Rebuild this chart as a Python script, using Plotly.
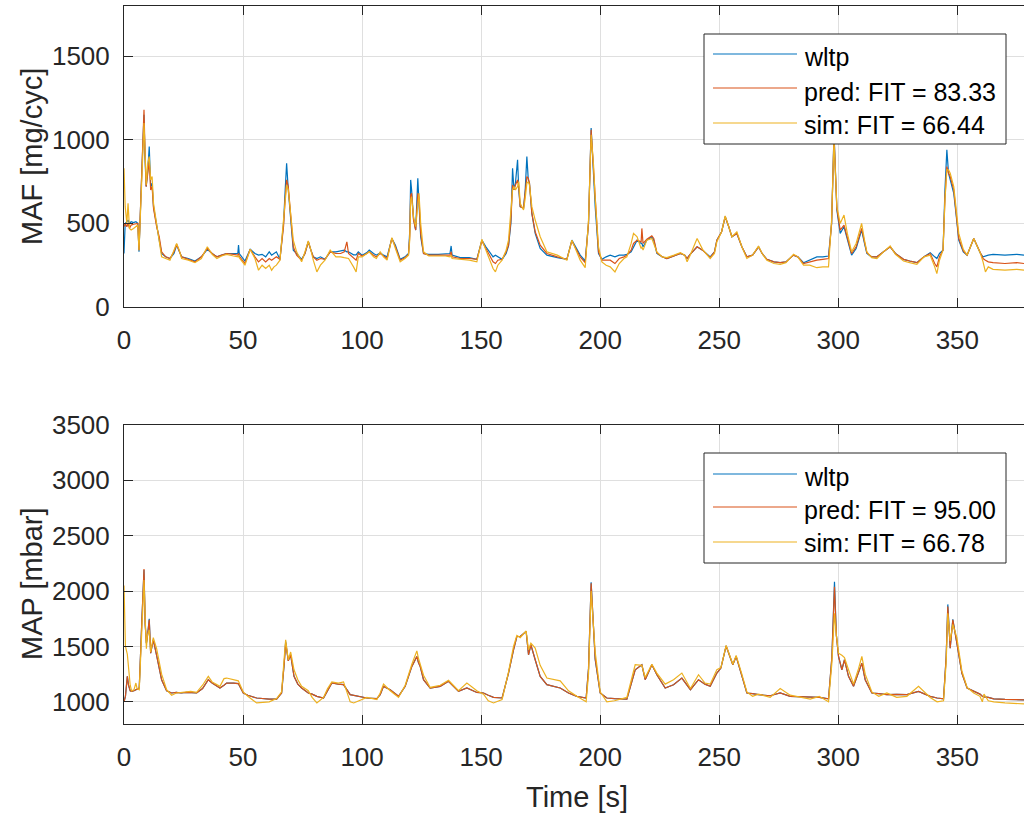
import plotly.graph_objects as go

# ---------------- data: MAF (top) ----------------
maf_t = [0, 0.5, 1.2, 1.7, 2.3, 3, 4, 5, 5.8, 6.3, 7.2, 8.0, 8.4, 8.8, 9.3, 10.0, 10.6, 11.2, 11.8, 12.4,
         13.7, 14.8, 15.8, 17.5, 19.3, 21.0, 22.1, 23.2, 24.2, 27, 29.8, 32.5, 35, 37, 39, 41, 43.1, 46, 47.8, 48.1,
         48.4, 50.8, 53, 55, 56.5, 58, 59.5, 61, 62, 63, 64, 65.5, 67, 67.7, 68.3, 69, 69.7, 70.5, 71.1, 72.5,
         74.6, 76, 77.4, 78.5, 79.5, 81, 82.5, 84.4, 86.6, 89, 91, 92.5, 93.6, 94.3, 96.4, 97.5, 98.4, 100, 102, 103,
         104.8, 106, 107.6, 109, 110.5, 112.5, 114, 116, 118, 119.5, 120, 120.4, 120.8, 121.6, 122.5, 123.4, 123.9, 124.6, 125.8, 128,
         132, 135, 136.9, 137.4, 137.8, 141.2, 145, 148.2, 150.3, 152, 153.8, 155, 156, 157, 158.8, 160.5, 161.5, 162.5, 163.2, 163.8,
         164.4, 165.3, 165.8, 166.4, 167.8, 168.5, 169.2, 169.8, 170.3, 171.3, 172.7, 174.8, 177.6, 182, 186, 188.1, 190, 191.6, 193.7, 195.1,
         196.2, 197.2, 197.9, 199.3, 200.7, 202.5, 204.2, 206.2, 208, 210, 211.2, 213, 214, 215.5, 217.2, 217.5, 218, 219.6, 221.7, 222.5,
         223.8, 226, 228, 231, 233.7, 235.5, 236.5, 237.5, 240.7, 243, 246.2, 248, 249, 251, 252.5, 254, 255.3, 257.4, 259.5, 261.6,
         264, 266.5, 268, 270, 273, 275.6, 278, 281.2, 283, 285.4, 288, 291, 293.5, 295.9, 297.2, 298.2, 299.4, 300.8, 302.4, 303.8,
         305.6, 307.5, 309.8, 311, 312, 314, 316.2, 319, 321.8, 324, 327.4, 330, 333, 336, 338.6, 340.5, 341.4, 342.5, 344, 344.8,
         345.6, 346.3, 347, 348.5, 349.5, 350.6, 352.5, 354.1, 356.9, 358.5, 359.7, 360.8, 361.8, 363, 365, 370, 375, 378]
maf_wltp = [320, 500, 510, 520, 500, 510, 505, 510, 500, 330, 700, 1000, 1150, 900, 720, 820, 960, 720, 740, 600,
            480, 400, 320, 300, 290, 320, 370, 330, 300, 290, 275, 300, 345, 320, 300, 310, 320, 320, 320, 370,
            320, 275, 345, 320, 310, 315, 300, 330, 310, 320, 330, 285, 500, 700, 860, 700, 560, 440, 340, 320,
            285, 320, 390, 340, 300, 290, 300, 285, 330, 330, 335, 340, 330, 330, 312, 312, 330, 310, 325, 340,
            320, 310, 325, 310, 300, 410, 370, 285, 300, 320, 450, 760, 700, 530, 460, 770, 620, 420, 320, 315,
            315, 320, 320, 365, 310, 295, 295, 285, 400, 360, 320, 300, 310, 300, 285, 320, 365, 500, 830, 700,
            740, 880, 700, 600, 590, 700, 900, 760, 740, 560, 440, 350, 310, 295, 285, 400, 350, 310, 275, 500,
            1070, 800, 600, 320, 285, 300, 310, 300, 310, 310, 315, 330, 360, 400, 380, 380, 360, 400, 420, 400,
            320, 300, 290, 305, 320, 310, 290, 310, 360, 340, 300, 330, 400, 450, 540, 480, 420, 440, 360, 300,
            310, 360, 320, 285, 270, 265, 270, 310, 300, 265, 280, 300, 300, 305, 500, 1040, 580, 440, 480, 400,
            310, 350, 460, 380, 320, 300, 300, 330, 360, 320, 285, 275, 265, 300, 325, 300, 290, 320, 340, 700,
            940, 800, 760, 680, 550, 400, 330, 310, 410, 360, 320, 300, 305, 310, 315, 310, 315, 310]
maf_pred = [480, 500, 480, 500, 470, 490, 495, 500, 500, 340, 720, 1050, 1180, 950, 720, 800, 870, 700, 720, 590,
            480, 420, 330, 300, 290, 330, 375, 335, 300, 285, 270, 300, 350, 320, 300, 310, 320, 315, 310, 320,
            305, 260, 345, 300, 270, 290, 270, 290, 280, 290, 300, 285, 480, 650, 760, 720, 580, 450, 360, 310,
            280, 320, 390, 340, 300, 280, 290, 285, 330, 320, 320, 330, 390, 320, 290, 280, 320, 305, 320, 330,
            310, 300, 320, 305, 290, 410, 360, 280, 295, 315, 420, 670, 680, 520, 460, 680, 650, 440, 320, 310,
            310, 310, 310, 330, 300, 290, 290, 285, 395, 350, 300, 270, 260, 280, 285, 330, 370, 520, 730, 700,
            730, 760, 720, 600, 590, 680, 780, 770, 740, 560, 450, 370, 320, 300, 285, 395, 340, 300, 265, 500,
            1060, 820, 620, 330, 280, 280, 280, 260, 290, 300, 310, 340, 380, 400, 390, 470, 380, 405, 425, 410,
            325, 300, 290, 305, 320, 310, 290, 310, 360, 340, 295, 330, 400, 450, 540, 480, 420, 440, 360, 300,
            310, 360, 320, 285, 270, 265, 270, 310, 300, 260, 270, 280, 285, 290, 500, 1030, 590, 460, 490, 420,
            320, 360, 470, 390, 325, 300, 300, 330, 360, 320, 285, 275, 265, 300, 320, 260, 240, 300, 340, 650,
            840, 800, 780, 700, 560, 410, 335, 310, 410, 360, 320, 290, 280, 270, 265, 260, 265, 260]
maf_sim = [830, 600, 500, 620, 470, 460, 470, 480, 490, 340, 700, 980, 1100, 950, 730, 860, 900, 760, 780, 620,
           500, 390, 300, 290, 280, 340, 380, 340, 290, 280, 265, 290, 360, 315, 290, 305, 315, 305, 300, 310,
           295, 250, 345, 290, 220, 250, 230, 250, 220, 240, 250, 280, 500, 600, 730, 700, 600, 480, 400, 330,
           270, 330, 395, 340, 280, 210, 250, 280, 340, 300, 300, 295, 290, 290, 240, 210, 300, 300, 320, 330,
           300, 290, 330, 300, 280, 415, 350, 270, 290, 310, 400, 640, 660, 540, 480, 640, 680, 500, 330, 305,
           305, 305, 300, 310, 290, 285, 280, 270, 405, 340, 280, 230, 210, 250, 280, 340, 400, 560, 700, 720,
           700, 720, 750, 620, 580, 650, 740, 750, 730, 600, 520, 420, 330, 310, 280, 400, 330, 280, 235, 520,
           1030, 850, 650, 360, 270, 250, 240, 210, 260, 290, 300, 380, 440, 420, 350, 360, 340, 400, 410, 380,
           330, 300, 295, 310, 325, 310, 270, 300, 410, 345, 290, 320, 390, 450, 545, 480, 420, 450, 360, 290,
           310, 365, 320, 280, 260, 255, 265, 315, 300, 250, 250, 235, 240, 240, 520, 1000, 600, 500, 550, 440,
           330, 380, 500, 400, 330, 295, 290, 330, 365, 315, 275, 265, 255, 300, 310, 240, 200, 280, 340, 640,
           820, 820, 800, 720, 590, 440, 345, 310, 410, 360, 320, 270, 210, 240, 225, 220, 225, 220]

# ---------------- data: MAP (bottom) ----------------
map_t = [0, 0.6, 1.4, 1.9, 2.6, 3.2, 4.2, 5.0, 5.5, 6.4, 7.4, 8.0, 8.4, 8.9, 9.4, 9.8, 10.6, 11.2, 11.8, 12.3,
         13.7, 15.8, 17.9, 20, 22, 24, 26.3, 28, 30.5, 33, 35.4, 37, 40.3, 42, 43.1, 46, 48, 50.1, 52, 55.7,
         58, 61, 64.1, 66.2, 67.3, 67.9, 69, 70, 71.4, 73, 74.6, 77.4, 79, 81, 83.8, 85.5, 87.3, 90, 92.2, 95,
         96.5, 98.5, 102, 106.2, 107.6, 109, 111.8, 115.3, 118.1, 120.9, 123, 123.6, 124.4, 125.8, 128.6, 132.8, 136.3, 140.5, 144, 148.2,
         151, 153, 155.2, 158.8, 161.5, 163.6, 165, 166.4, 168.9, 169.9, 170.9, 172.7, 174.8, 177.6, 183.2, 186.7, 190.2, 194.1, 195.1, 196.2,
         197.9, 200, 202.8, 206, 211.2, 214.7, 217.5, 218.9, 221.7, 223.8, 227.3, 230.8, 234.3, 237.9, 241.3, 244, 246.2, 249, 250.7, 252.9,
         255.7, 257.1, 259.5, 261.6, 264, 266.5, 271.4, 275.6, 279.8, 284, 288.2, 292, 295.9, 297.3, 298.4, 299.2, 300.1, 301.5, 302.6, 304.3,
         306.4, 308.5, 309.9, 311.3, 314.1, 317, 320.4, 324.5, 328.8, 333.7, 338.6, 341.5, 344.2, 345.3, 346, 347, 348.1, 349.8, 351.9, 354.1,
         356.9, 359.5, 360.5, 361.2, 363, 365.3, 370, 378]
map_wltp = [1000, 1050, 1230, 1150, 1100, 1095, 1100, 1110, 1110, 1125, 1680, 1950, 2190, 1700, 1530, 1580, 1750, 1440, 1500, 1560,
            1420, 1200, 1100, 1080, 1085, 1080, 1085, 1085, 1080, 1120, 1200, 1170, 1125, 1150, 1170, 1170, 1165, 1080, 1060, 1035,
            1030, 1025, 1025, 1080, 1350, 1545, 1370, 1425, 1230, 1160, 1125, 1080, 1070, 1050, 1035, 1100, 1170, 1160, 1155, 1065,
            1060, 1050, 1035, 1030, 1065, 1140, 1110, 1050, 1140, 1320, 1410, 1360, 1320, 1200, 1125, 1140, 1185, 1095, 1125, 1085,
            1080, 1060, 1040, 1035, 1260, 1470, 1590, 1590, 1635, 1425, 1515, 1380, 1230, 1155, 1125, 1080, 1050, 1035, 1300, 2080,
            1380, 1080, 1035, 1030, 1025, 1290, 1335, 1200, 1335, 1245, 1125, 1155, 1215, 1110, 1200, 1160, 1140, 1260, 1305, 1505,
            1335, 1410, 1230, 1080, 1075, 1065, 1055, 1080, 1050, 1048, 1045, 1040, 1027, 1400, 2085, 1600, 1410, 1290, 1380, 1230,
            1140, 1260, 1350, 1200, 1080, 1075, 1065, 1068, 1065, 1095, 1050, 1035, 1027, 1400, 1880, 1485, 1745, 1530, 1260, 1125,
            1095, 1070, 1051, 1045, 1040, 1027, 1022, 1018]
map_pred = [1000, 1050, 1230, 1150, 1100, 1095, 1100, 1110, 1110, 1125, 1680, 1980, 2200, 1700, 1530, 1580, 1740, 1440, 1500, 1560,
            1420, 1200, 1100, 1080, 1085, 1080, 1085, 1085, 1080, 1120, 1200, 1170, 1125, 1150, 1170, 1170, 1165, 1080, 1060, 1035,
            1030, 1025, 1025, 1080, 1350, 1530, 1370, 1425, 1230, 1160, 1125, 1080, 1070, 1050, 1035, 1100, 1170, 1160, 1155, 1065,
            1060, 1050, 1035, 1030, 1065, 1140, 1110, 1050, 1140, 1320, 1410, 1360, 1320, 1200, 1125, 1140, 1185, 1095, 1125, 1085,
            1080, 1060, 1040, 1035, 1260, 1470, 1590, 1590, 1635, 1425, 1515, 1380, 1230, 1155, 1125, 1080, 1050, 1035, 1300, 2070,
            1390, 1080, 1035, 1030, 1025, 1290, 1335, 1200, 1335, 1245, 1125, 1155, 1215, 1110, 1200, 1160, 1140, 1260, 1305, 1505,
            1335, 1410, 1230, 1080, 1075, 1065, 1055, 1080, 1050, 1048, 1045, 1040, 1027, 1400, 2040, 1600, 1410, 1290, 1380, 1230,
            1140, 1260, 1350, 1200, 1080, 1075, 1065, 1068, 1065, 1095, 1050, 1035, 1027, 1400, 1860, 1485, 1740, 1530, 1260, 1125,
            1095, 1070, 1051, 1045, 1040, 1027, 1022, 1018]
map_sim = [2050, 1500, 1430, 1330, 1150, 1100, 1110, 1170, 1120, 1110, 1650, 1850, 2100, 1750, 1480, 1600, 1650, 1450, 1520, 1580,
           1480, 1250, 1110, 1060, 1080, 1085, 1090, 1095, 1085, 1150, 1230, 1180, 1140, 1210, 1215, 1200, 1190, 1090, 1050, 990,
           995, 1000, 1030, 1090, 1400, 1560, 1380, 1450, 1290, 1200, 1140, 1100, 1040, 990, 1040, 1120, 1180, 1170, 1180, 1000,
           990, 1010, 1040, 1020, 1080, 1160, 1100, 1040, 1150, 1340, 1460, 1400, 1340, 1240, 1130, 1150, 1195, 1100, 1170, 1100,
           1070, 1010, 990, 1020, 1270, 1500, 1600, 1580, 1640, 1470, 1530, 1485, 1330, 1215, 1190, 1100, 1050, 1000, 1250, 2000,
           1450, 1090, 1000, 1010, 1040, 1335, 1330, 1220, 1340, 1260, 1160, 1200, 1260, 1120, 1245, 1170, 1160, 1290, 1310, 1510,
           1340, 1420, 1250, 1090, 1050, 1070, 1040, 1120, 1060, 1045, 1025, 1050, 1000, 1350, 1800, 1600, 1440, 1420, 1400, 1290,
           1160, 1300, 1410, 1250, 1090, 1050, 1080, 1040, 1050, 1140, 1040, 1000, 1010, 1350, 1800, 1550, 1700, 1580, 1280, 1130,
           1080, 1050, 1000, 1070, 1010, 1000, 990, 982]

series_names_top = ["wltp", "pred: FIT = 83.33", "sim: FIT = 66.44"]
series_names_bot = ["wltp", "pred: FIT = 95.00", "sim: FIT = 66.78"]
colors = ["#0072BD", "#D95319", "#EDB120"]
x_ticks = [0, 50, 100, 150, 200, 250, 300, 350]
maf_ticks = [0, 500, 1000, 1500]
map_ticks = [1000, 1500, 2000, 2500, 3000, 3500]

# ---------------- layout geometry ----------------
W, H = 1024, 819
L, R, T, B = 124, 0, 6, 95
PW, PH = W - L - R, H - T - B


def fx(x):
    return (x - L) / PW


def fy(y):
    return (H - B - y) / PH


FONT = "Liberation Sans, Arial, Helvetica, sans-serif"
AX = "#262626"
GRID = "#dfdfdf"

fig = go.Figure()
for vals, name, col in zip([maf_wltp, maf_pred, maf_sim], series_names_top, colors):
    fig.add_trace(go.Scatter(x=maf_t, y=vals, mode="lines", name=name,
                             line=dict(color=col, width=1.2), xaxis="x", yaxis="y", showlegend=False))
for vals, name, col in zip([map_wltp, map_pred, map_sim], series_names_bot, colors):
    fig.add_trace(go.Scatter(x=map_t, y=vals, mode="lines", name=name,
                             line=dict(color=col, width=1.2), xaxis="x2", yaxis="y2", showlegend=False))

common_x = dict(range=[0, 378], tickvals=x_ticks, showline=True, linecolor=AX, linewidth=1,
                mirror="allticks", ticks="inside", ticklen=9, tickwidth=1, tickcolor=AX,
                showgrid=True, gridcolor=GRID, gridwidth=1, zeroline=False, automargin=False,
                tickfont=dict(family=FONT, size=26, color=AX), ticklabelstandoff=10)
common_y = dict(showline=True, linecolor=AX, linewidth=1, mirror=False, ticks="inside",
                ticklen=9, tickwidth=1, tickcolor=AX, showgrid=True, gridcolor=GRID, gridwidth=1,
                zeroline=False, automargin=False,
                tickfont=dict(family=FONT, size=26, color=AX), ticklabelstandoff=8)

fig.update_layout(
    template="none",
    width=W, height=H, margin=dict(l=L, r=R, t=T, b=B, autoexpand=False),
    paper_bgcolor="white", plot_bgcolor="white", showlegend=False,
    xaxis=dict(domain=[0, 1], anchor="y", **common_x),
    yaxis=dict(domain=[fy(307), fy(6)], anchor="x", range=[0, 1800], tickvals=maf_ticks, **common_y),
    xaxis2=dict(domain=[0, 1], anchor="y2", **common_x),
    yaxis2=dict(domain=[fy(724), fy(425)], anchor="x2", range=[800, 3500], tickvals=map_ticks, **common_y),
)

shapes = []
annotations = []


def add_legend(top, bottom, rows, names):
    shapes.append(dict(type="rect", xref="paper", yref="paper", x0=fx(704), x1=fx(1006),
                       y0=fy(bottom), y1=fy(top), line=dict(color=AX, width=1),
                       fillcolor="white", layer="above"))
    for (ly, ty), name, col in zip(rows, names, colors):
        shapes.append(dict(type="line", xref="paper", yref="paper", x0=fx(713), x1=fx(797),
                           y0=fy(ly), y1=fy(ly), line=dict(color=col, width=1.2), layer="above"))
        annotations.append(dict(xref="paper", yref="paper", x=fx(802), y=fy(ty), text=name,
                                showarrow=False, xanchor="left", yanchor="middle",
                                font=dict(family=FONT, size=25, color="black")))


add_legend(34, 144, [(54, 57), (88, 92), (123, 125)], series_names_top)
add_legend(453, 563, [(474, 477), (507, 510), (542, 543)], series_names_bot)

annotations.append(dict(xref="paper", yref="paper", x=fx(32), y=fy(157), text="MAF [mg/cyc]",
                        textangle=-90, showarrow=False, xanchor="center", yanchor="middle",
                        font=dict(family=FONT, size=29, color=AX)))
annotations.append(dict(xref="paper", yref="paper", x=fx(32), y=fy(584), text="MAP [mbar]",
                        textangle=-90, showarrow=False, xanchor="center", yanchor="middle",
                        font=dict(family=FONT, size=29, color=AX)))
annotations.append(dict(xref="paper", yref="paper", x=fx(577), y=fy(797), text="Time [s]",
                        showarrow=False, xanchor="center", yanchor="middle",
                        font=dict(family=FONT, size=29, color=AX)))

fig.update_layout(shapes=shapes, annotations=annotations)
fig.write_html("out.html")
